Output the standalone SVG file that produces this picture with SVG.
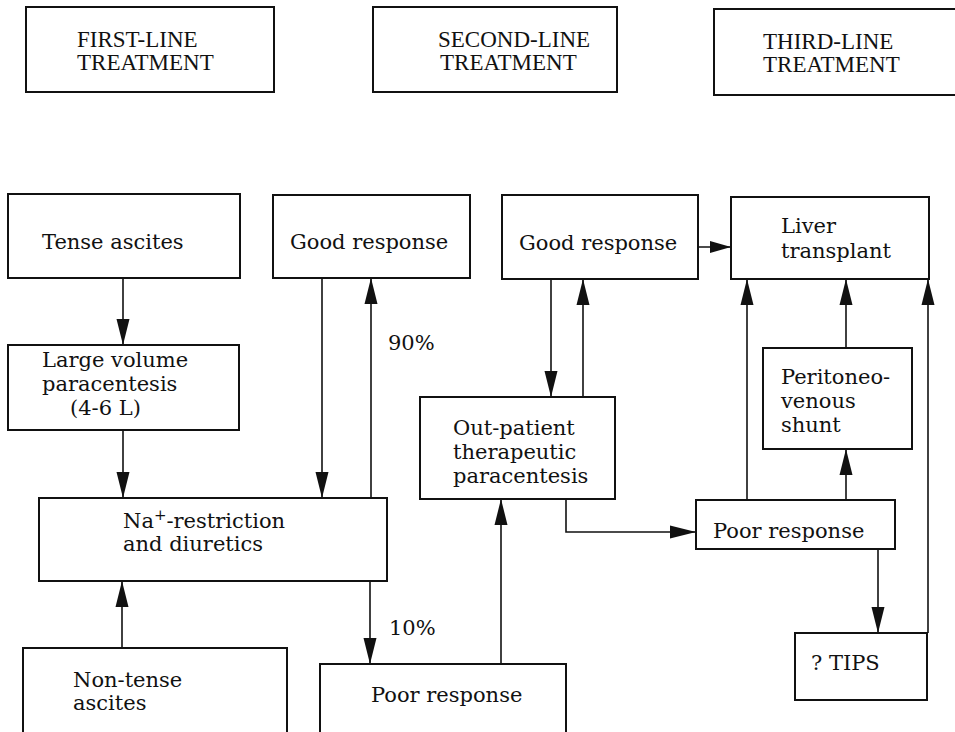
<svg xmlns="http://www.w3.org/2000/svg" width="955" height="732" viewBox="0 0 955 732">
  <style>
    .box { fill: #ffffff; stroke: #111111; stroke-width: 2; }
    .head { font-family: "Liberation Serif", "Times New Roman", serif; font-size: 23px; fill: #111111; }
    .lbl { font-family: "DejaVu Serif", "Liberation Serif", serif; font-size: 21px; fill: #111111; }
    .wire { fill: none; stroke: #111111; stroke-width: 1.6; }
    .arr { marker-end: url(#tip); }
    .arr-short { marker-end: url(#tipShort); }
  </style>
  <defs>
    <marker id="tip" markerUnits="userSpaceOnUse" markerWidth="26" markerHeight="14" refX="26" refY="7" orient="auto">
      <path d="M0,0.5 L26,7 L0,13.5 z" fill="#111111"/>
    </marker>
    <marker id="tipShort" markerUnits="userSpaceOnUse" markerWidth="21" markerHeight="13" refX="21" refY="6.5" orient="auto">
      <path d="M0,0.5 L21,6.5 L0,12.5 z" fill="#111111"/>
    </marker>
  </defs>

  <rect x="0" y="0" width="955" height="732" fill="#ffffff"/>

  <!-- column headers -->
  <g id="first-line">
    <rect class="box" x="26" y="7" width="248" height="85"/>
    <text class="head" x="77" y="47">FIRST-LINE</text>
    <text class="head" x="77" y="70">TREATMENT</text>
  </g>
  <g id="second-line">
    <rect class="box" x="373" y="7" width="244" height="85"/>
    <text class="head" x="438" y="47">SECOND-LINE</text>
    <text class="head" x="440" y="70">TREATMENT</text>
  </g>
  <g id="third-line">
    <rect class="box" x="714" y="9" width="260" height="86"/>
    <text class="head" x="763" y="49">THIRD-LINE</text>
    <text class="head" x="763" y="72">TREATMENT</text>
  </g>

  <!-- connectors -->
  <g id="connectors">
    <line class="wire arr" x1="123" y1="278" x2="123" y2="345"/>
    <line class="wire arr" x1="123" y1="430" x2="123" y2="498"/>
    <line class="wire arr" x1="122" y1="648" x2="122" y2="581"/>
    <line class="wire arr" x1="322" y1="278" x2="322" y2="498"/>
    <line class="wire arr" x1="371" y1="498" x2="371" y2="278"/>
    <line class="wire arr" x1="370" y1="581" x2="370" y2="664"/>
    <line class="wire arr" x1="501" y1="664" x2="501" y2="499"/>
    <line class="wire arr" x1="551" y1="279" x2="551" y2="397"/>
    <line class="wire arr" x1="583" y1="397" x2="583" y2="279"/>
    <polyline class="wire arr" points="566,499 566,532 696,532"/>
    <line class="wire arr-short" x1="698" y1="247" x2="731" y2="247"/>
    <line class="wire arr" x1="747" y1="500" x2="747" y2="279"/>
    <line class="wire arr" x1="846" y1="348" x2="846" y2="279"/>
    <line class="wire arr" x1="846" y1="500" x2="846" y2="449"/>
    <line class="wire arr" x1="928" y1="633" x2="928" y2="279"/>
    <line class="wire arr" x1="878" y1="549" x2="878" y2="633"/>
  </g>

  <!-- first-line nodes -->
  <g id="tense-ascites">
    <rect class="box" x="8" y="194" width="232" height="84"/>
    <text class="lbl" x="42" y="249">Tense ascites</text>
  </g>
  <g id="large-volume">
    <rect class="box" x="8" y="345" width="231" height="85"/>
    <text class="lbl" x="42" y="367">Large volume</text>
    <text class="lbl" x="42" y="391">paracentesis</text>
    <text class="lbl" x="70" y="415">(4-6 L)</text>
  </g>
  <g id="na-restriction">
    <rect class="box" x="39" y="498" width="348" height="83"/>
    <text class="lbl" x="123" y="528">Na<tspan dy="-8" font-size="15">+</tspan><tspan dy="8">-restriction</tspan></text>
    <text class="lbl" x="123" y="551">and diuretics</text>
  </g>
  <g id="non-tense-ascites">
    <rect class="box" x="23" y="648" width="264" height="100"/>
    <text class="lbl" x="73" y="687">Non-tense</text>
    <text class="lbl" x="73" y="710">ascites</text>
  </g>

  <!-- second-line nodes -->
  <g id="good-response-1">
    <rect class="box" x="273" y="195" width="197" height="83"/>
    <text class="lbl" x="290" y="249">Good response</text>
  </g>
  <g id="poor-response-1">
    <rect class="box" x="320" y="664" width="246" height="90"/>
    <text class="lbl" x="371" y="702">Poor response</text>
  </g>
  <g id="outpatient-paracentesis">
    <rect class="box" x="420" y="397" width="195" height="102"/>
    <text class="lbl" x="453" y="435">Out-patient</text>
    <text class="lbl" x="453" y="459">therapeutic</text>
    <text class="lbl" x="453" y="483">paracentesis</text>
  </g>
  <g id="good-response-2">
    <rect class="box" x="502" y="195" width="196" height="84"/>
    <text class="lbl" x="519" y="250">Good response</text>
  </g>

  <!-- third-line nodes -->
  <g id="liver-transplant">
    <rect class="box" x="731" y="197" width="198" height="82"/>
    <text class="lbl" x="781" y="233">Liver</text>
    <text class="lbl" x="781" y="258">transplant</text>
  </g>
  <g id="peritoneovenous-shunt">
    <rect class="box" x="763" y="348" width="149" height="101"/>
    <text class="lbl" x="781" y="384">Peritoneo-</text>
    <text class="lbl" x="781" y="408">venous</text>
    <text class="lbl" x="781" y="432">shunt</text>
  </g>
  <g id="poor-response-2">
    <rect class="box" x="696" y="500" width="199" height="49"/>
    <text class="lbl" x="713" y="538">Poor response</text>
  </g>
  <g id="tips">
    <rect class="box" x="795" y="633" width="132" height="67"/>
    <text class="lbl" x="811" y="670">? TIPS</text>
  </g>

  <!-- branch percentages -->
  <g id="labels">
    <text class="lbl" x="388" y="350">90%</text>
    <text class="lbl" x="389" y="635">10%</text>
  </g>
</svg>
